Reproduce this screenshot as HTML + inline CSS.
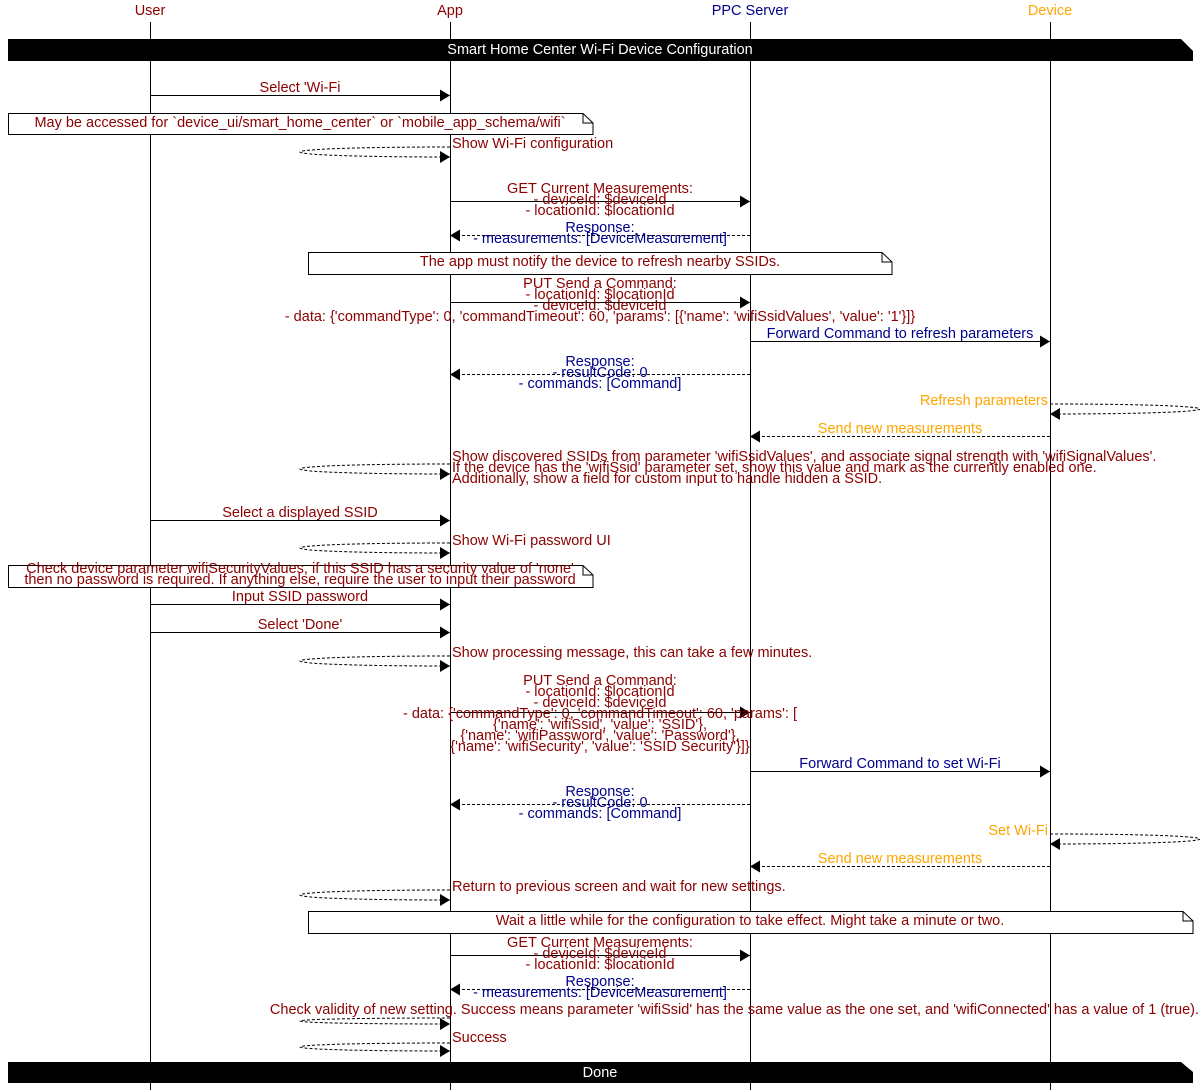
<!DOCTYPE html>
<html><head><meta charset="utf-8"><style>
html,body{margin:0;padding:0;background:#fff;}
svg{display:block;}
text{font-family:"Liberation Sans",Arial,sans-serif;font-size:14.5px;}
.r{fill:#8B0000}.b{fill:#00008B}.o{fill:#FFA500}
.m{text-anchor:middle}.e{text-anchor:end}
.ln{stroke:#000;stroke-width:1;fill:none}
.d{stroke:#000;stroke-width:1;fill:none;stroke-dasharray:3,2}
</style></head><body>
<svg width="1200" height="1090" viewBox="0 0 1200 1090" xmlns="http://www.w3.org/2000/svg">
<defs>
<marker id="a" markerWidth="12" markerHeight="12" refX="10" refY="6" orient="auto" markerUnits="userSpaceOnUse"><path d="M0,0 L10,6 L0,12 Z" fill="#000"/></marker>
</defs>
<text x="150" y="15" class="r m">User</text>
<text x="450" y="15" class="r m">App</text>
<text x="750" y="15" class="b m">PPC Server</text>
<text x="1050" y="15" class="o m">Device</text>
<g class="ln">
<line x1="150.5" y1="22" x2="150.5" y2="1090"/>
<line x1="450.5" y1="22" x2="450.5" y2="1090"/>
<line x1="750.5" y1="22" x2="750.5" y2="1090"/>
<line x1="1050.5" y1="22" x2="1050.5" y2="1090"/>
</g>
<path d="M8 39 H1181 L1193 51 V61 H8 Z" fill="#000"/>
<text x="600" y="54" class="m" fill="#fff">Smart Home Center Wi-Fi Device Configuration</text>

<line x1="150" y1="95.5" x2="450" y2="95.5" class="ln" marker-end="url(#a)"/>
<text x="300" y="92" class="r m">Select 'Wi-Fi</text>

<path d="M8.5 113.5 H583 L593 123 V134.5 H8.5 Z" fill="#fff" stroke="#000"/>
<path d="M583 113.5 V123 H593" class="ln"/>
<text x="300" y="127" class="r m">May be accessed for `device_ui/smart_home_center` or `mobile_app_schema/wifi`</text>

<path d="M450 147 C250 147,250 157,450 157" class="d" marker-end="url(#a)"/>
<text x="452" y="148" class="r">Show Wi-Fi configuration</text>

<line x1="450" y1="201.5" x2="750" y2="201.5" class="ln" marker-end="url(#a)"/>
<text x="600" y="193" class="r m">GET Current Measurements:</text>
<text x="600" y="204" class="r m">- deviceId: $deviceId</text>
<text x="600" y="215" class="r m">- locationId: $locationId</text>

<line x1="750" y1="235.5" x2="450" y2="235.5" class="d" marker-end="url(#a)"/>
<text x="600" y="232" class="b m">Response:</text>
<text x="600" y="243" class="b m">- measurements: [DeviceMeasurement]</text>

<path d="M308.5 252.5 H882 L892 262 V274.5 H308.5 Z" fill="#fff" stroke="#000"/>
<path d="M882 252.5 V262 H892" class="ln"/>
<text x="600" y="266" class="r m">The app must notify the device to refresh nearby SSIDs.</text>

<line x1="450" y1="302.5" x2="750" y2="302.5" class="ln" marker-end="url(#a)"/>
<text x="600" y="288" class="r m">PUT Send a Command:</text>
<text x="600" y="299" class="r m">- locationId: $locationId</text>
<text x="600" y="310" class="r m">- deviceId: $deviceId</text>
<text x="600" y="321" class="r m">- data: {'commandType': 0, 'commandTimeout': 60, 'params': [{'name': 'wifiSsidValues', 'value': '1'}]}</text>

<line x1="750" y1="341.5" x2="1050" y2="341.5" class="ln" marker-end="url(#a)"/>
<text x="900" y="338" class="b m">Forward Command to refresh parameters</text>

<line x1="750" y1="374.5" x2="450" y2="374.5" class="d" marker-end="url(#a)"/>
<text x="600" y="366" class="b m">Response:</text>
<text x="600" y="377" class="b m">- resultCode: 0</text>
<text x="600" y="388" class="b m">- commands: [Command]</text>

<path d="M1050 404 C1250 404,1250 414,1050 414" class="d" marker-end="url(#a)"/>
<text x="1048" y="405" class="o e">Refresh parameters</text>

<line x1="1050" y1="436.5" x2="750" y2="436.5" class="d" marker-end="url(#a)"/>
<text x="900" y="433" class="o m">Send new measurements</text>

<path d="M450 464 C250 464,250 474,450 474" class="d" marker-end="url(#a)"/>
<text x="452" y="461" class="r">Show discovered SSIDs from parameter 'wifiSsidValues', and associate signal strength with 'wifiSignalValues'.</text>
<text x="452" y="472" class="r">If the device has the 'wifiSsid' parameter set, show this value and mark as the currently enabled one.</text>
<text x="452" y="483" class="r">Additionally, show a field for custom input to handle hidden a SSID.</text>

<line x1="150" y1="520.5" x2="450" y2="520.5" class="ln" marker-end="url(#a)"/>
<text x="300" y="517" class="r m">Select a displayed SSID</text>

<path d="M450 543 C250 543,250 553,450 553" class="d" marker-end="url(#a)"/>
<text x="452" y="545" class="r">Show Wi-Fi password UI</text>

<path d="M8.5 565.5 H583 L593 575 V587.5 H8.5 Z" fill="#fff" stroke="#000"/>
<path d="M583 565.5 V575 H593" class="ln"/>
<text x="300" y="573" class="r m">Check device parameter wifiSecurityValues, if this SSID has a security value of 'none'</text>
<text x="300" y="584" class="r m">then no password is required.  If anything else, require the user to input their password</text>

<line x1="150" y1="604.5" x2="450" y2="604.5" class="ln" marker-end="url(#a)"/>
<text x="300" y="601" class="r m">Input SSID password</text>
<line x1="150" y1="632.5" x2="450" y2="632.5" class="ln" marker-end="url(#a)"/>
<text x="300" y="629" class="r m">Select 'Done'</text>

<path d="M450 656 C250 656,250 666,450 666" class="d" marker-end="url(#a)"/>
<text x="452" y="657" class="r">Show processing message, this can take a few minutes.</text>

<line x1="450" y1="712.5" x2="750" y2="712.5" class="ln" marker-end="url(#a)"/>
<text x="600" y="685" class="r m">PUT Send a Command:</text>
<text x="600" y="696" class="r m">- locationId: $locationId</text>
<text x="600" y="707" class="r m">- deviceId: $deviceId</text>
<text x="600" y="718" class="r m">- data: {'commandType': 0, 'commandTimeout': 60, 'params': [</text>
<text x="600" y="729" class="r m">{'name': 'wifiSsid', 'value': 'SSID'},</text>
<text x="600" y="740" class="r m">{'name': 'wifiPassword', 'value': 'Password'},</text>
<text x="600" y="751" class="r m">{'name': 'wifiSecurity', 'value': 'SSID Security'}]}</text>

<line x1="750" y1="771.5" x2="1050" y2="771.5" class="ln" marker-end="url(#a)"/>
<text x="900" y="768" class="b m">Forward Command to set Wi-Fi</text>

<line x1="750" y1="804.5" x2="450" y2="804.5" class="d" marker-end="url(#a)"/>
<text x="600" y="796" class="b m">Response:</text>
<text x="600" y="807" class="b m">- resultCode: 0</text>
<text x="600" y="818" class="b m">- commands: [Command]</text>

<path d="M1050 834 C1250 834,1250 844,1050 844" class="d" marker-end="url(#a)"/>
<text x="1048" y="835" class="o e">Set Wi-Fi</text>

<line x1="1050" y1="866.5" x2="750" y2="866.5" class="d" marker-end="url(#a)"/>
<text x="900" y="863" class="o m">Send new measurements</text>

<path d="M450 890 C250 890,250 900,450 900" class="d" marker-end="url(#a)"/>
<text x="452" y="891" class="r">Return to previous screen and wait for new settings.</text>

<path d="M308.5 911.5 H1183 L1193 921 V933.5 H308.5 Z" fill="#fff" stroke="#000"/>
<path d="M1183 911.5 V921 H1193" class="ln"/>
<text x="750" y="925" class="r m">Wait a little while for the configuration to take effect.  Might take a minute or two.</text>

<line x1="450" y1="955.5" x2="750" y2="955.5" class="ln" marker-end="url(#a)"/>
<text x="600" y="947" class="r m">GET Current Measurements:</text>
<text x="600" y="958" class="r m">- deviceId: $deviceId</text>
<text x="600" y="969" class="r m">- locationId: $locationId</text>

<line x1="750" y1="989.5" x2="450" y2="989.5" class="d" marker-end="url(#a)"/>
<text x="600" y="986" class="b m">Response:</text>
<text x="600" y="997" class="b m">- measurements: [DeviceMeasurement]</text>

<path d="M450 1018 C250 1018,250 1024,450 1024" class="d" marker-end="url(#a)"/>
<text x="1199" y="1014" class="r e">Check validity of new setting.  Success means parameter 'wifiSsid' has the same value as the one set, and 'wifiConnected' has a value of 1 (true).</text>

<path d="M450 1043 C250 1043,250 1051,450 1051" class="d" marker-end="url(#a)"/>
<text x="452" y="1042" class="r">Success</text>

<path d="M8 1062 H1181 L1193 1072 V1083 H8 Z" fill="#000"/>
<text x="600" y="1077" class="m" fill="#fff">Done</text>
</svg>
</body></html>
